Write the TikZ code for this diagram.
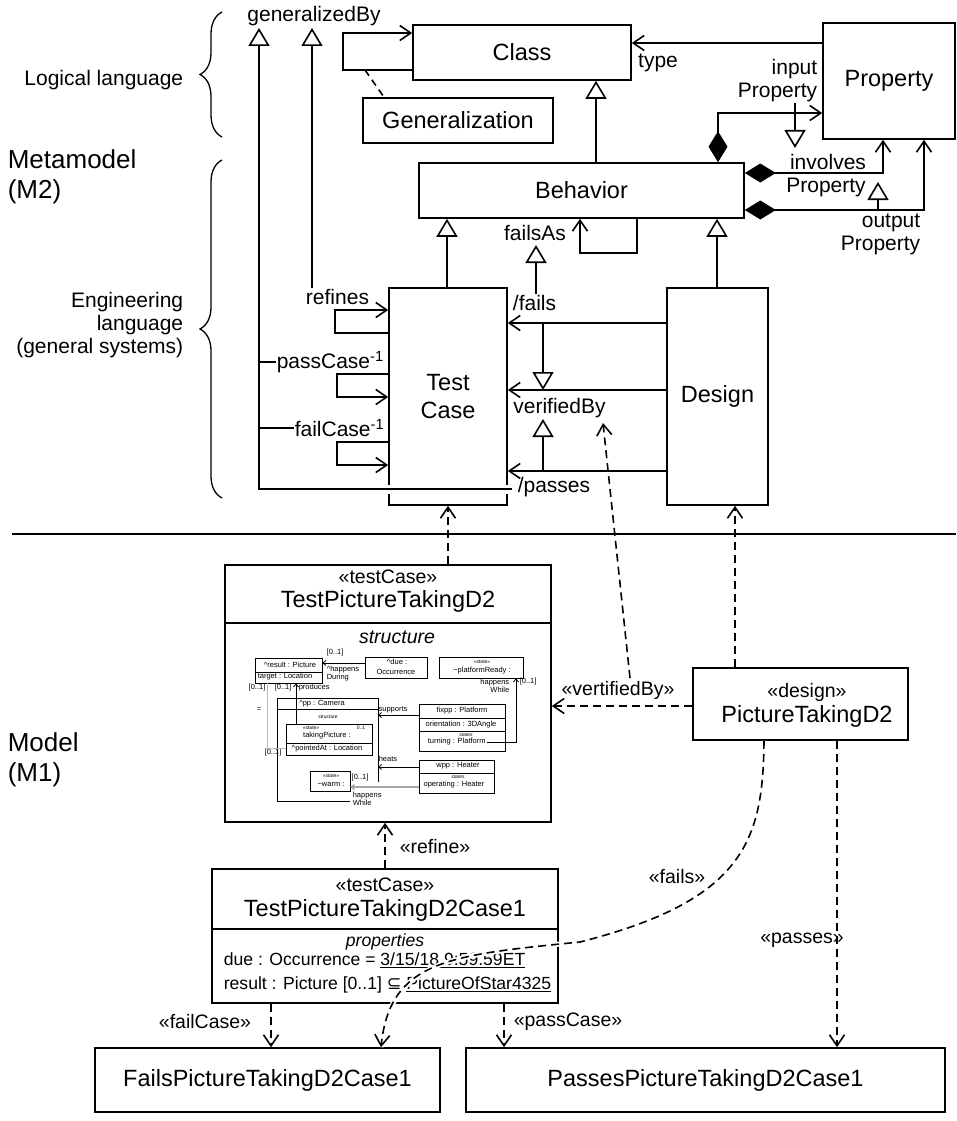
\documentclass[tikz,border=0pt]{standalone}
\usepackage{fontspec}
\setmainfont{Liberation Sans}
\newfontfamily\symfnt{DejaVu Sans}
\usetikzlibrary{arrows.meta,decorations.pathreplacing}

\newcommand\hugefnt{\fontsize{26}{30}\selectfont}
\newcommand\boxfnt{\fontsize{23.5}{28}\selectfont}
\newcommand\lblfnt{\fontsize{21}{23}\selectfont}
\newcommand\stfnt{\fontsize{19.5}{22}\selectfont}
\newcommand\propfnt{\fontsize{17.6}{20}\selectfont}
\newcommand\tinyfnt{\fontsize{7.5}{8}\selectfont}
\newcommand\microfnt{\fontsize{5}{6}\selectfont}

\begin{document}
\begin{tikzpicture}[x=1pt,y=-1pt,line width=1.6pt,
  box/.style={draw,line width=1.6pt,inner sep=0pt,font=\boxfnt,align=center},
  lab/.style={inner sep=0pt,font=\lblfnt},
  stlab/.style={inner sep=0pt,font=\stfnt},
  assoc/.style={-{Straight Barb[length=11pt,width=15pt]}},
  genr/.style={-{Triangle[length=18pt,width=21pt,fill=white]}},
  compassoc/.style={{Diamond[length=31pt,width=19pt]}-{Straight Barb[length=11pt,width=15pt]}},
  dep/.style={dash pattern=on 8pt off 5pt,-{Straight Barb[length=11pt,width=15pt]}},
  tbox/.style={draw,line width=0.8pt,inner sep=0pt},
  ttxt/.style={inner sep=0pt,font=\tinyfnt},
  mtxt/.style={inner sep=0pt,font=\microfnt},
  tline/.style={line width=0.8pt},
  tarr/.style={line width=0.8pt,-{Straight Barb[length=3pt,width=5pt]}},
  brc/.style={line width=1.3pt,decorate,decoration={brace,amplitude=22pt}},
]
\useasboundingbox (0,0) rectangle (956,1121);

% ---------- left side captions ----------
\node[lab,anchor=east] (loglang) at (184,80) {Logical language};
\node[lab,anchor=east,align=right] (englang) at (184,325) {Engineering\\language\\(general systems)};
\node[inner sep=0pt,anchor=west,align=left,font=\hugefnt] (mmodel) at (7,177) {Metamodel\\(M2)};
\node[inner sep=0pt,anchor=west,align=left,font=\hugefnt] (model) at (7,760) {Model\\(M1)};
\draw[brc] (222,137) -- (222,12);
\draw[brc] (222,498) -- (222,160);

% ---------- metamodel classes ----------
\node[box,minimum width=218pt,minimum height=55pt] (class) at (522,52.5) {Class};
\node[box,minimum width=190pt,minimum height=45pt] (gener) at (458,120.5) {Generalization};
\node[box,minimum width=132pt,minimum height=116pt] (prop) at (889,81) {Property};
\node[box,minimum width=325pt,minimum height=55pt] (behav) at (581.5,190.5) {Behavior};
\node[box,minimum width=118pt,minimum height=217pt] (tcase) at (448,396.5) {Test\\Case};
\node[box,minimum width=101pt,minimum height=217pt] (design) at (717.5,396.5) {Design};

% ---------- metamodel labels ----------
\node[lab] (genby) at (314,16) {generalizedBy};
\node[lab] (typel) at (658,63) {type};
\node[lab,anchor=east,align=right] (inprop) at (818,81) {input\\Property};
\node[lab] (involv) at (828,162) {involves};
\node[lab] (involvp) at (826,187) {Property};
\node[lab,anchor=east,align=right] (outprop) at (921,234) {output\\Property};
\node[lab] (failsas) at (535,233) {failsAs};
\node[lab] (fails) at (534.5,303) {/fails};
\node[lab] (verby) at (559.5,408) {verifiedBy};
\node[lab,anchor=west] (passes) at (517,487) {/passes};
\node[lab] (refines) at (337.5,297) {refines};
\node[lab,anchor=west] (passc) at (276,362) {passCase\textsuperscript{-1}};
\node[lab,anchor=west] (failc) at (294,428) {failCase\textsuperscript{-1}};

% ---------- metamodel connectors ----------
% generalization self association on Class
\coordinate (lpA) at (343,70);
\coordinate (lpB) at (343,33);
\draw[assoc] (class.west |- lpA) -- (lpA) -- (lpB) -- (class.west |- lpB);
\coordinate (lpmid) at (365,70);
\draw[dash pattern=on 7pt off 5pt] (lpmid) -- (gener.north -| 384,0);
% type
\draw[assoc] (prop.west |- 0,43) -- (class.east |- 0,43);
% Behavior is a Class
\draw[genr] (behav.north -| 596,0) -- (class.south -| 596,0);
% property associations
\coordinate (ipc) at (718,113);
\draw[compassoc] (behav.north -| ipc) -- (ipc) -- (prop.west |- ipc);
\coordinate (ipg) at (795,103);
\coordinate (ipt) at (795,148);
\draw[genr] (ipg) -- (ipt);
\coordinate (ivc) at (883,173);
\draw[compassoc] (behav.east |- ivc) -- (ivc) -- (prop.south -| ivc);
\coordinate (opc) at (924,210);
\draw[compassoc] (behav.east |- opc) -- (opc) -- (prop.south -| opc);
\coordinate (opg) at (878,210);
\coordinate (opt) at (878,182);
\draw[genr] (opg) -- (opt);
% Test Case and Design are Behaviors
\draw[genr] (tcase.north -| 447,0) -- (behav.south -| 447,0);
\draw[genr] (design.north -| 717,0) -- (behav.south -| 717,0);
% failsAs
\coordinate (faA) at (637,253);
\coordinate (faB) at (580,253);
\draw[assoc] (behav.south -| faA) -- (faA) -- (faB) -- (behav.south -| faB);
\draw[genr] (fails.north -| 536,0) -- (536,245);
% Design to Test Case
\draw[assoc] (design.west |- 0,323) -- (tcase.east |- 0,323);
\draw[assoc] (design.west |- 0,390) -- (tcase.east |- 0,390);
\draw[assoc] (design.west |- 0,471) -- (tcase.east |- 0,471);
\draw[genr] (543,323) -- (543,390);
\draw[genr] (543,471) -- (543,419);
% Test Case self associations
\coordinate (rfA) at (335,333); \coordinate (rfB) at (335,310);
\draw[assoc] (tcase.west |- rfA) -- (rfA) -- (rfB) -- (tcase.west |- rfB);
\coordinate (pcA) at (337,374); \coordinate (pcB) at (337,397);
\draw[assoc] (tcase.west |- pcA) -- (pcA) -- (pcB) -- (tcase.west |- pcB);
\coordinate (fcA) at (337,442); \coordinate (fcB) at (337,465);
\draw[assoc] (tcase.west |- fcA) -- (fcA) -- (fcB) -- (tcase.west |- fcB);
% generalizedBy
\coordinate (gbA) at (259,28);
\coordinate (gbB) at (312,28);
\coordinate (gbend) at (512,489);
\draw[white,line width=9pt,shorten <=-3pt,shorten >=-3pt] (tcase.west |- gbend) -- (tcase.east |- gbend);
\draw[genr] (gbend) -- (gbend -| gbA) -- (gbA);
\draw[genr] (refines.north -| gbB) -- (gbB);
\coordinate (pct) at (259,362);
\coordinate (fct) at (259,428);
\draw (pct) -- (pct -| passc.west);
\draw (fct) -- (fct -| failc.west);

% ---------- level separator ----------
\coordinate (sepL) at (12,534);
\coordinate (sepR) at (956,534);
\draw (sepL) -- (sepR);

% ---------- model elements ----------
\node[box,minimum width=326pt,minimum height=257pt] (tpt) at (388,693.5) {};
\node[stlab] (tptst) at (388,577) {«testCase»};
\node[inner sep=0pt,font=\boxfnt] (tptname) at (388,601) {TestPictureTakingD2};
\draw (tpt.west |- 0,623) -- (tpt.east |- 0,623);
\node[inner sep=0pt,font=\stfnt\itshape] (structl) at (397,637) {structure};

\node[box,minimum width=215pt,minimum height=72pt] (pdesign) at (800.5,704) {};
\node[stlab] (pdst) at (807,692) {«design»};
\node[inner sep=0pt,font=\boxfnt] (pdname) at (807,716) {PictureTakingD2};

\node[box,minimum width=346pt,minimum height=134pt] (case1) at (385,936) {};
\node[stlab] (c1st) at (385,885) {«testCase»};
\node[inner sep=0pt,font=\boxfnt] (c1name) at (385,910) {TestPictureTakingD2Case1};
\draw (case1.west |- 0,929) -- (case1.east |- 0,929);
\node[inner sep=0pt,font=\propfnt\itshape] (c1prop) at (385,942) {properties};
\node[inner sep=0pt,font=\propfnt,anchor=west] (c1due) at (223,960) {due : Occurrence = \underline{3/15/18 9:59.59ET}};
\node[inner sep=0pt,font=\propfnt,anchor=west] (c1res) at (223,985) {result : Picture [0..1] {\symfnt ⊆} \underline{PictureOfStar4325}};

\node[box,minimum width=345pt,minimum height=64pt] (failsbox) at (267.5,1080) {FailsPictureTakingD2Case1};
\node[box,minimum width=479pt,minimum height=64pt] (passesbox) at (705.5,1080) {PassesPictureTakingD2Case1};

% ---------- structure compartment ----------
\node[tbox,minimum width=67pt,minimum height=25pt] (res) at (288.5,670.5) {};
\draw[tline] (res.west |- 0,672) -- (res.east |- 0,672);
\node[ttxt] (rest) at (290,665) {\textasciicircum result : Picture};
\node[ttxt] (tgt) at (285,677) {target : Location};
\node[tbox,minimum width=62pt,minimum height=21pt] (due) at (396,667.5) {};
\node[ttxt] (duet) at (397,662) {\textasciicircum due :};
\node[ttxt] (duet2) at (396,672) {Occurrence};
\node[tbox,minimum width=84pt,minimum height=21pt] (prdy) at (481,667.5) {};
\node[mtxt] (prdys) at (482,662) {«state»};
\node[ttxt] (prdyt) at (482,671) {\textasciitilde platformReady :};
\draw[tarr] (due.west |- 0,663) -- (res.east |- 0,663);
\node[ttxt] (m01a) at (335,653) {[0..1]};
\node[ttxt,anchor=west,align=left] (hdur) at (326,674) {\textasciicircum happens\\During};
\node[ttxt] (m01b) at (257,688) {[0..1]};
\node[ttxt] (m01c) at (283,688) {[0..1]};
\node[ttxt,anchor=west] (prodl) at (298,688) {produces};
\node[ttxt] (eqs) at (259,710) {=};
% camera part
\draw[tline] (350,801) -- (277,801) -- (277,698) -- (378,698) -- (378,782);
\draw[tline] (277,709) -- (378,709);
\node[ttxt] (camt) at (322,704) {\textasciicircum pp : Camera};
\node[mtxt,font=\microfnt\itshape] (cams) at (328,717) {structure};
\node[tbox,minimum width=86pt,minimum height=31pt] (tpic) at (329,739.5) {};
\draw[tline] (tpic.west |- 0,743) -- (tpic.east |- 0,743);
\node[mtxt] (tpics) at (311,728) {«state»};
\node[mtxt] (tpicm) at (361,728) {0..1};
\node[ttxt] (tpict) at (327,736) {takingPicture :};
\node[ttxt] (tpicp) at (327,749) {\textasciicircum pointedAt : Location};
\node[ttxt] (m01d) at (273,753) {[0..1]};
\coordinate (gry) at (267,683);
\draw[tline,gray!55] (gry) -- (267,748) -- (tpic.west |- 0,748);
\draw[tarr] (tpic.north -| 296,0) -- (res.south -| 296,0);
% platform part
\node[tbox,minimum width=86pt,minimum height=47pt] (fix) at (462,727.5) {};
\draw[tline] (fix.west |- 0,718) -- (fix.east |- 0,718);
\draw[tline] (fix.west |- 0,731) -- (fix.east |- 0,731);
\node[ttxt] (fixt) at (462,711) {fixpp : Platform};
\node[ttxt] (fixo) at (461,725) {orientation : 3DAngle};
\node[mtxt,font=\microfnt\itshape] (fixs) at (466,735) {states};
\node[ttxt,anchor=west] (fixtu) at (427,742) {turning : Platform};
\draw[tarr] (fix.west |- 0,715) -- (378,715);
\node[ttxt] (supl) at (393,710) {supports};
\coordinate (turnA) at (487,742);
\coordinate (turnB) at (516,742);
\draw[tarr] (turnA) -- (turnB) -- (prdy.south -| turnB);
\node[ttxt,anchor=east,align=right] (hwl) at (510,686) {happens\\While};
\node[ttxt,anchor=west] (m01e) at (519,682) {[0..1]};
% heater part
\node[tbox,minimum width=75pt,minimum height=33pt] (wpp) at (456.5,776.5) {};
\draw[tline] (wpp.west |- 0,773) -- (wpp.east |- 0,773);
\node[ttxt] (wppt) at (458,766) {wpp : Heater};
\node[mtxt,font=\microfnt\itshape] (wpps) at (458,777) {states};
\node[ttxt] (wppo) at (454,785) {operating : Heater};
\draw[tarr] (wpp.west |- 0,767) -- (378,767);
\node[ttxt,anchor=west] (heatl) at (378,759) {heats};
\node[tbox,minimum width=40pt,minimum height=20pt] (warm) at (330,781) {};
\node[mtxt] (warms) at (331,776) {«state»};
\node[ttxt] (warmt) at (331,785) {\textasciitilde warm :};
\draw[tarr,gray!70,line width=1.3pt] (wpp.west |- 0,787) -- (warm.east |- 0,787);
\node[ttxt] (m01f) at (360,778) {[0..1]};
\node[ttxt,anchor=west,align=left] (hwl2) at (352,799) {happens\\While};

% ---------- model dependencies ----------
\draw[dep] (tpt.north -| tcase.south) -- (tcase.south);
\draw[dep] (pdesign.north -| 735,0) -- (design.south -| 735,0);
\draw[dep] (pdesign.west |- 0,706) -- (tpt.east |- 0,706);
\node[stlab] (vbl) at (618,690) {«vertifiedBy»};
\coordinate (vbfrom) at (630,678);
\coordinate (vbto) at (603,423);
\draw[dep] (vbfrom) -- (vbto);
\draw[dep] (case1.north) -- (tpt.south -| case1.north);
\node[stlab] (refl) at (435,847) {«refine»};
\draw[dep] (case1.south -| 271,0) -- (failsbox.north -| 271,0);
\node[stlab] (fcl) at (205,1022) {«failCase»};
\draw[dep] (case1.south -| 504,0) -- (passesbox.north -| 504,0);
\node[stlab] (pcl) at (568,1022) {«passCase»};
\draw[dep] (pdesign.south -| 837,0) -- (passesbox.north -| 837,0);
\node[stlab] (psl) at (802,940) {«passes»};
\node[stlab] (fsl) at (677,877) {«fails»};
\draw[dep,preaction={draw=white,line width=5pt,solid,-}]
  (pdesign.south -| 764,0) .. controls (763,840) and (745,900) .. (580,942)
  .. controls (450,955) and (390,960) .. (failsbox.north -| 381,0);
\end{tikzpicture}
\end{document}
